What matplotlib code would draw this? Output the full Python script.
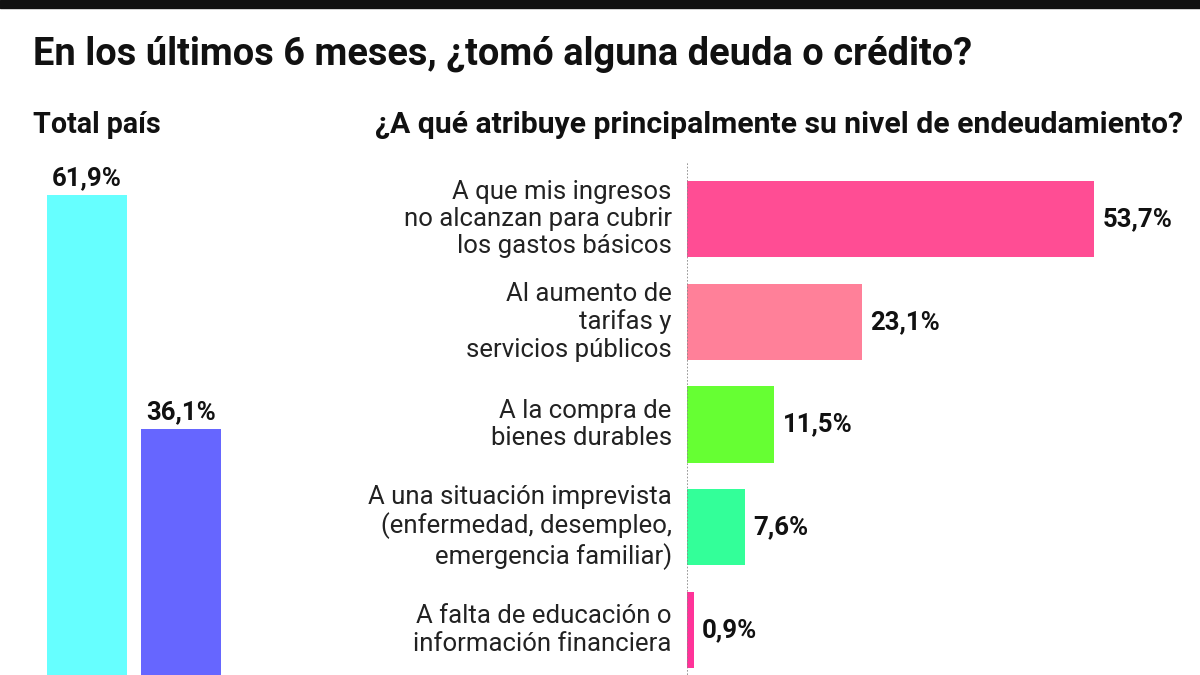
import matplotlib.pyplot as plt
from matplotlib.patches import Rectangle

# data
total_vals = [61.9, 36.1]
total_colors = ["#66ffff", "#6666ff"]

reasons = [
    "A que mis ingresos\nno alcanzan para cubrir\nlos gastos básicos",
    "Al aumento de\ntarifas y\nservicios públicos",
    "A la compra de\nbienes durables",
    "A una situación imprevista\n(enfermedad, desempleo,\nemergencia familiar)",
    "A falta de educación o\ninformación financiera",
]
reason_vals = [53.7, 23.1, 11.5, 7.6, 0.9]
reason_colors = ["#ff4d94", "#ff8099", "#66ff33", "#33ff99", "#ff3399"]

W, H = 1200, 675
FAM = ["Roboto", "DejaVu Sans"]

fig = plt.figure(figsize=(12, 6.75), dpi=100)
fig.patch.set_facecolor("white")

# black strip on top
fig.patches.append(Rectangle((0, 1 - 8 / H), 1, 8 / H, transform=fig.transFigure,
                             color="#111111", zorder=5))

fig.text(33 / W, 1 - 65 / H, "En los últimos 6 meses, ¿tomó alguna deuda o crédito?",
         fontsize=27.4, fontweight="bold", family=FAM,
         ha="left", va="baseline", color="#111111")
fig.text(33 / W, 1 - 133 / H, "Total país", fontsize=20.6, fontweight="bold",
         family=FAM, ha="left", va="baseline", color="#111111")
fig.text(1183 / W, 1 - 133 / H, "¿A qué atribuye principalmente su nivel de endeudamiento?",
         fontsize=21.7, fontweight="bold", family=FAM,
         ha="right", va="baseline", color="#111111")

# left panel: total
ax1 = fig.add_axes([30 / W, 0, 210 / W, (675 - 160) / H])
ax1.bar([0, 1], total_vals, width=0.851, color=total_colors)
ax1.set_xlim(-0.606, 1.628)
ax1.set_ylim(9.04, 65.8)
for i, v in enumerate(total_vals):
    ax1.annotate(f"{v:.1f}%".replace(".", ","), (i, v), xytext=(0, 4),
                 textcoords="offset points", ha="center", va="bottom",
                 fontsize=18.5, fontweight="bold", family=FAM, color="#111111")
ax1.axis("off")

# right panel: reasons
ax2 = fig.add_axes([687 / W, 0, (1190 - 687) / W, (675 - 162) / H])
ypos = list(range(len(reasons)))
ax2.barh(ypos, reason_vals, height=0.74, color=reason_colors)
ax2.set_xlim(0, (1190 - 687) / 7.58)
ax2.set_ylim(4.438, -0.555)
ax2.axvline(0, color="#888888", lw=1.2, ls=(0, (1, 1)))
for i, v in enumerate(reason_vals):
    ax2.annotate(f"{v:.1f}%".replace(".", ","), (v, i), xytext=(6, 0),
                 textcoords="offset points", ha="left", va="center",
                 fontsize=18.5, fontweight="bold", family=FAM, color="#111111")
    ax2.annotate(reasons[i], (0, i), xytext=(-11, 0), textcoords="offset points",
                 ha="right", va="center", fontsize=18.5, family=FAM,
                 color="#222222", linespacing=1.18)
for s in ax2.spines.values():
    s.set_visible(False)
ax2.set_xticks([])
ax2.set_yticks([])

fig.savefig("out.png", dpi=100, facecolor="white")
